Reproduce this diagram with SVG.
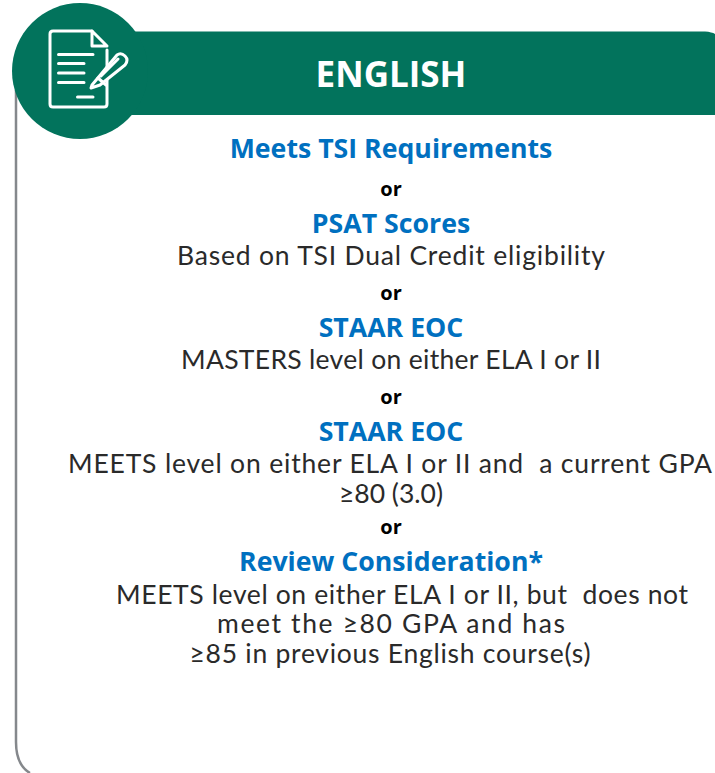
<svg xmlns="http://www.w3.org/2000/svg" width="715" height="773" viewBox="0 0 715 773">
<style>
text{text-anchor:middle;white-space:pre}
.h{font:700 26.700px "Open Sans",sans-serif;fill:#0070c0}
.o{font:700 20px "Open Sans",sans-serif;fill:#000}
.b{font:400 26.500px "Lato",sans-serif;fill:#2a2a2a}
.i{fill:none;stroke:#fff;stroke-width:3;stroke-linejoin:round;stroke-linecap:round}
</style>
<rect width="715" height="773" fill="#fff"/>
<g id="card">
<path d="M16 90V742Q16 765 30 773" fill="none" stroke="#85888c" stroke-width="2.500"/>
</g>
<g id="header">
<path d="M100 31.500H705Q712 32 715 34V115H100Z" fill="#02735c"/>
<circle cx="80" cy="71" r="68" fill="#02735c"/>
<g class="i">
<path d="M107 50V104Q107 107 104 107H53Q50 107 50 104V34Q50 31 53 31H92"/>
<path d="M92 31V46H107L92 31"/>
<path d="M58.500 54.500H93M58.500 63.500H84M58.500 73H84M58.500 82.500H84M77.500 97H93"/>
<path d="M92 85L117 55Q121 52 125 56T125 65L100 85L91 88Z" fill="#02735c"/>
<path d="M98 78L106 85M101 76L118 59"/>
</g>
<text x="391" y="87" style="font:700 35px 'Open Sans',sans-serif;fill:#fff">ENGLISH</text>
</g>
<g id="content">
<text class="h" x="391" y="157.500">Meets TSI Requirements</text>
<text class="o" x="391" y="196">or</text>
<text class="h" x="391" y="232.500">PSAT Scores</text>
<text class="b" x="391" y="265" textLength="428">Based on TSI Dual Credit eligibility</text>
<text class="o" x="391" y="300">or</text>
<text class="h" x="391" y="336.500">STAAR EOC</text>
<text class="b" x="391" y="369" textLength="420">MASTERS level on either ELA I or II</text>
<text class="o" x="391" y="404">or</text>
<text class="h" x="391" y="440.500">STAAR EOC</text>
<text class="b" x="390" y="473" textLength="644">MEETS level on either ELA I or II and  a current GPA</text>
<text class="b" x="391" y="503">≥80 (3.0)</text>
<text class="o" x="391" y="534">or</text>
<text class="h" x="391" y="570.500">Review Consideration*</text>
<text class="b" x="402" y="604" textLength="572">MEETS level on either ELA I or II, but  does not</text>
<text class="b" x="391" y="633" textLength="348">meet the ≥80 GPA and has</text>
<text class="b" x="390" y="663" textLength="401">≥85 in previous English course(s)</text>
</g>
</svg>
